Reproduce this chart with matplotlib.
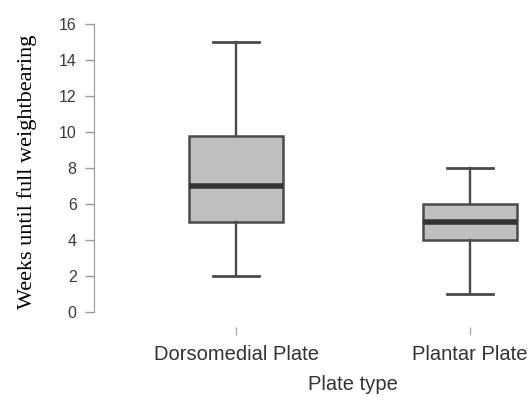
import matplotlib
matplotlib.use('Agg')
import matplotlib.pyplot as plt

# Weeks until full weightbearing by plate type
categories = ['Dorsomedial Plate', 'Plantar Plate']
whisker_low = [2, 1]
q1 = [5, 4]
median = [7, 5]
q3 = [9.75, 6]
whisker_high = [15, 8]
y_ticks = [0, 2, 4, 6, 8, 10, 12, 14, 16]

stats = []
for i, name in enumerate(categories):
    stats.append({'label': name, 'whislo': whisker_low[i], 'q1': q1[i],
                  'med': median[i], 'q3': q3[i], 'whishi': whisker_high[i],
                  'fliers': []})

fig = plt.figure(figsize=(5.29, 4.01), dpi=100)
ax = fig.add_axes([0.1777, 0.1845, 0.8223, 0.7646])

edge = '#4a4a4a'
ax.bxp(stats, positions=[1, 2], widths=0.4, capwidths=0.2, patch_artist=True,
       showfliers=False,
       boxprops=dict(facecolor='#bfbfbf', edgecolor=edge, linewidth=1.8),
       medianprops=dict(color='#333333', linewidth=4),
       whiskerprops=dict(color=edge, linewidth=1.7),
       capprops=dict(color=edge, linewidth=2))

ax.set_xlim(0.393, 2.252)
ax.set_ylim(-0.85, 16.2)
ax.set_yticks(y_ticks)

for side in ['top', 'right', 'bottom']:
    ax.spines[side].set_visible(False)
ax.spines['left'].set_bounds(0, 16)
ax.spines['left'].set_color('#999999')

ax.tick_params(axis='y', length=6.5, width=1, color='#999999', pad=6,
               labelsize=11.5, labelcolor='#3a3a3a')
ax.tick_params(axis='x', length=6, width=1, color='#aaaaaa', pad=7,
               labelsize=14.5, labelcolor='#333333')
for lab in ax.get_yticklabels() + ax.get_xticklabels():
    lab.set_family('Liberation Sans')

ax.set_xlabel('Plate type', fontsize=14.5, color='#333333',
              family='Liberation Sans', labelpad=10)
ax.xaxis.set_label_coords((353 - 94) / 435, -0.155)
ax.set_ylabel('Weeks until full weightbearing', fontsize=16,
              family='Liberation Serif', color='black')
ax.yaxis.set_label_coords(-0.13, 0.506)

fig.savefig('out.png', dpi=100)
